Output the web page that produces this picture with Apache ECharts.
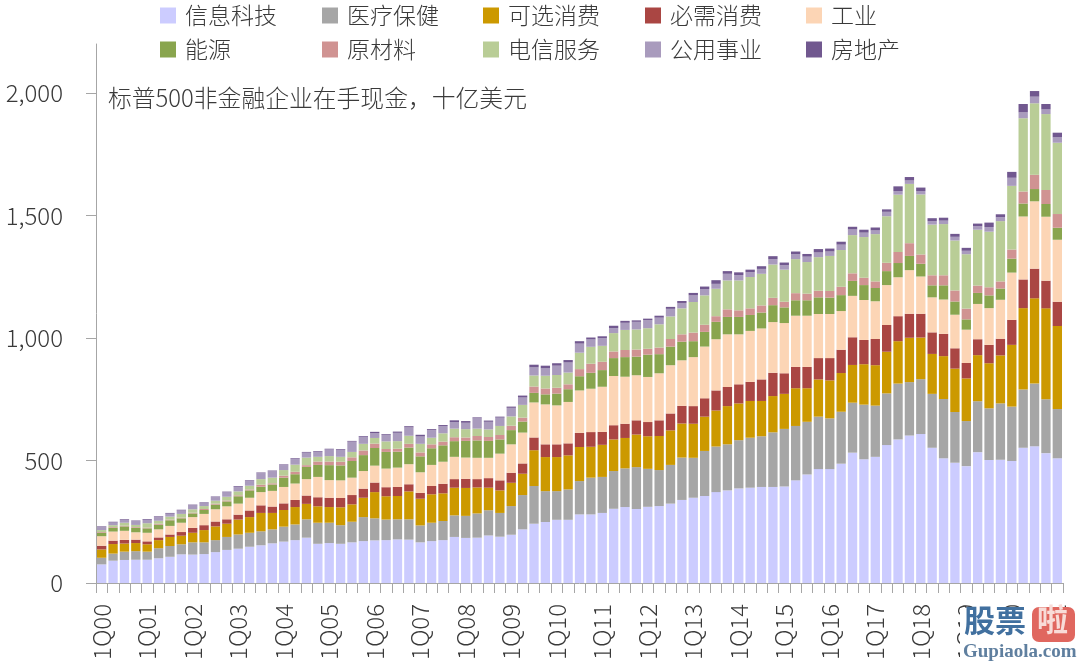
<!DOCTYPE html>
<html>
<head>
<meta charset="utf-8">
<style>html,body{margin:0;padding:0;background:#fff}#c{width:1080px;height:663px}</style>
<script src="https://cdn.jsdelivr.net/npm/echarts@6/dist/echarts.min.js"></script>
</head>
<body>
<div id="c"></div>
<script>
const tech = [76,91,94,95,95,101,107,117,116,118,126,135,140,148,154,162,169,175,185,160,163,160,166,171,174,175,178,177,166,171,175,188,184,185,194,189,197,219,242,249,258,258,280,280,286,303,310,302,311,314,324,339,348,355,371,378,386,389,392,392,394,419,443,465,465,487,532,505,515,563,586,602,608,552,509,491,477,534,502,503,498,552,558,530,509];
const health = [27,29,34,35,33,41,44,41,50,48,49,53,58,57,57,57,61,64,75,86,83,76,84,98,90,84,82,83,69,75,78,88,90,99,103,97,117,140,154,126,117,124,136,150,147,154,158,171,155,147,158,173,163,184,186,188,197,204,207,223,235,222,215,214,207,212,204,223,209,211,228,218,224,220,242,207,184,208,211,230,222,238,256,220,201];
const discretionary = [34,39,33,33,30,33,37,35,39,50,56,54,61,64,75,67,68,71,63,67,64,73,71,79,107,95,95,114,109,116,113,113,114,106,92,92,95,87,146,139,139,139,139,126,131,129,124,133,133,139,141,139,139,140,147,156,150,150,144,148,143,154,137,152,155,158,154,165,165,170,173,181,170,163,175,177,174,188,184,196,252,332,348,371,339];
const staples = [15,14,15,14,12,11,10,15,20,20,20,18,20,27,31,26,27,29,34,37,38,38,38,37,39,37,37,29,24,34,39,35,37,34,39,41,41,42,52,52,52,49,58,60,53,58,58,58,58,64,69,72,72,75,82,78,78,78,88,95,84,87,87,87,91,95,113,99,107,109,102,98,97,88,91,83,63,65,75,68,102,117,121,113,99];
const industrials = [39,37,37,30,35,33,35,38,44,46,50,53,45,52,54,64,67,67,67,83,72,72,71,72,69,76,79,82,84,86,90,91,87,87,83,109,116,126,143,163,159,169,173,177,184,201,192,184,184,192,197,186,200,211,209,215,204,208,208,207,205,209,209,180,180,158,169,163,154,163,159,178,152,143,140,137,136,144,150,159,193,257,275,261,253];
const energy = [14,15,18,18,18,19,23,18,15,16,19,20,30,30,22,26,38,38,50,49,61,61,68,65,72,68,65,68,65,68,67,64,68,71,69,58,58,45,39,41,48,52,58,65,68,73,80,76,91,78,76,76,65,60,71,71,71,65,65,69,64,63,63,68,67,65,61,61,54,57,58,58,52,49,58,54,42,45,52,46,57,53,50,52,49];
const materials = [3,3,3,3,3,4,3,3,3,4,4,4,4,4,8,5,8,10,7,14,15,15,15,19,18,12,12,15,16,16,15,16,14,18,16,18,18,16,26,24,24,20,29,37,34,27,29,29,24,27,31,30,35,29,23,31,27,27,29,30,23,29,27,27,27,34,31,30,27,34,45,52,38,41,41,45,44,30,33,29,37,49,58,57,56];
const telecom = [8,8,12,9,18,12,12,15,14,12,12,15,16,15,23,23,23,29,31,19,22,20,22,27,23,31,31,33,35,27,34,35,34,30,31,37,38,52,45,52,52,48,67,69,65,75,82,82,84,95,92,106,125,120,112,118,122,128,129,136,131,139,129,137,143,150,156,166,193,190,234,242,245,207,209,204,222,228,227,246,260,299,292,310,291];
const utilities = [12,11,11,15,14,15,12,14,16,11,14,18,19,19,24,26,20,23,20,20,27,29,42,29,20,27,34,34,30,31,30,27,26,42,31,34,35,30,33,30,38,41,37,30,31,20,29,31,33,27,31,22,27,26,20,27,22,20,20,22,18,20,22,19,18,22,23,18,15,18,14,14,14,14,14,15,14,14,19,16,33,24,27,19,22];
const realEstate = [3,3,3,3,3,3,3,3,3,4,3,3,3,3,3,3,3,3,3,3,3,3,3,3,5,3,5,5,7,4,4,7,7,4,5,4,5,8,11,11,10,10,10,8,8,10,8,6,6,8,8,8,10,10,15,11,11,10,11,12,11,11,11,14,12,12,11,12,12,10,20,14,14,12,12,12,12,11,18,12,24,34,23,22,19];

const years = ['00','01','02','03','04','05','06','07','08','09','10','11','12','13','14','15','16','17','18','19','20','21'];
const categories = [];
years.forEach(y => [1,2,3,4].forEach(q => categories.push(q + 'Q' + y)));
categories.length = tech.length;

const yTicks = [0,500,1000,1500,2000];
const seriesNames = ['信息科技','医疗保健','可选消费','必需消费','工业','能源','原材料','电信服务','公用事业','房地产'];
const seriesValues = [tech,health,discretionary,staples,industrials,energy,materials,telecom,utilities,realEstate];
const colors = ['#ccccff','#a6a6a6','#cc9900','#aa4643','#fcd5b5','#89a54e','#d09392','#b9cd96','#a99bbd','#71588f'];
const chartTitle = '标普500非金融企业在手现金，十亿美元';

const FONT = '"Noto Sans CJK SC","Noto Sans",sans-serif';
const TEXT = '#3a3a3a';
const AXIS = '#a6a6a6';
const legendLeft = [155,317,478,640,801];
const legendTop = [-1,33];

const chart = echarts.init(document.getElementById('c'), null, {renderer:'canvas'});
chart.setOption({
  animation:false,
  backgroundColor:'#fff',
  title:{text:chartTitle,left:103,top:81,textStyle:{fontFamily:FONT,fontSize:23.8,fontWeight:300,color:TEXT}},
  legend:seriesNames.map((n,i)=>({
    data:[{name:n,icon:'rect'}],selectedMode:false,
    left:legendLeft[i%5],top:legendTop[Math.floor(i/5)],
    itemWidth:16,itemHeight:16,
    textStyle:{fontFamily:FONT,fontSize:23,fontWeight:300,color:TEXT,padding:[0,0,0,4]}
  })),
  grid:{left:96,right:17,top:44,bottom:80},
  xAxis:{
    type:'category',data:categories,
    axisLine:{lineStyle:{color:AXIS,width:1}},
    axisTick:{show:true,interval:0,length:10,lineStyle:{color:AXIS}},
    axisLabel:{interval:3,rotate:90,margin:21,fontFamily:FONT,fontSize:24,fontWeight:300,color:TEXT,hideOverlap:false}
  },
  yAxis:{
    type:'value',min:0,max:2200,
    splitLine:{show:false},
    axisLine:{show:true,lineStyle:{color:AXIS,width:1}},
    axisTick:{show:true,length:10,customValues:yTicks,lineStyle:{color:AXIS}},
    axisLabel:{customValues:yTicks,margin:33,fontFamily:FONT,fontSize:24,fontWeight:300,color:TEXT,
      formatter:v=>Number(v).toLocaleString('en-US')}
  },
  series:seriesNames.map((n,i)=>({
    name:n,type:'bar',stack:'cash',data:seriesValues[i],
    barCategoryGap:'18%',itemStyle:{color:colors[i]}
  })),
  graphic:[
    {type:'rect',shape:{x:960,y:608,width:120,height:55},style:{fill:'#fff'},z:100},
    {type:'text',style:{x:964,y:605,text:'股票',font:'bold 31px "Noto Sans CJK SC"',fill:'#41709f'},z:101},
    {type:'rect',shape:{x:1032,y:607,width:43,height:35,r:7},style:{fill:'#e0675f'},z:101},
    {type:'text',style:{x:1037,y:604,text:'啦',font:'bold 31px "Noto Sans CJK SC"',fill:'#f8dcd8'},z:102},
    {type:'text',style:{x:963,y:643,text:'Gupiaola.com',font:'bold 19px "Liberation Serif"',fill:'#5f7f9f'},z:101}
  ]
});
</script>
</body>
</html>
